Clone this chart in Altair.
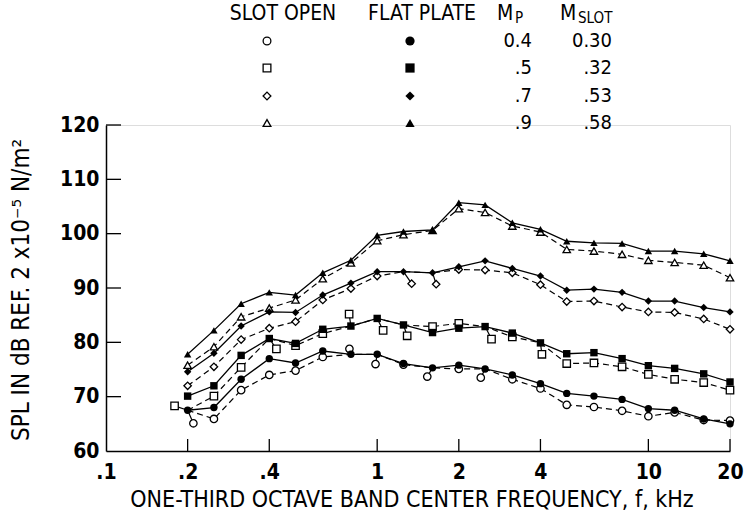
import altair as alt
import pandas as pd

FONT = "DejaVu Sans Condensed, Liberation Sans Narrow, sans-serif"

FREQ = [0.2, 0.25, 0.315, 0.4, 0.5, 0.63, 0.8, 1.0, 1.25, 1.6, 2.0, 2.5,
        3.15, 4.0, 5.0, 6.3, 8.0, 10.0, 12.5, 16.0, 20.0]

SERIES = ["circle", "square", "diamond", "triangle"]
MP = ["0.4", ".5", ".7", ".9"]
MSLOT = ["0.30", ".32", ".53", ".58"]

# flat plate (filled symbols, solid lines)
FLAT_CIRCLE = [67.5, 68.0, 73.2, 77.0, 76.2, 78.4, 77.8, 77.8, 76.1, 75.3, 75.8,
               75.1, 74.0, 72.4, 70.6, 70.1, 69.5, 67.8, 67.5, 65.9, 65.0]
FLAT_SQUARE = [70.1, 72.0, 77.6, 80.7, 79.8, 82.4, 83.0, 84.4, 83.2, 81.8, 82.6,
               82.9, 81.7, 79.9, 77.9, 78.1, 77.0, 75.7, 75.2, 74.2, 72.7]
FLAT_DIAMOND = [74.6, 78.0, 83.0, 85.6, 85.5, 88.7, 90.9, 93.0, 93.0, 92.8, 93.9,
                95.0, 93.6, 92.2, 89.6, 89.8, 89.2, 87.6, 87.6, 86.4, 85.6]
FLAT_TRIANGLE = [77.8, 82.2, 87.1, 89.2, 88.7, 92.8, 95.1, 99.7, 100.4, 100.7, 105.7,
                 105.3, 102.0, 100.8, 98.6, 98.3, 98.2, 96.8, 96.8, 96.3, 95.0]

# slot open (open symbols, dashed lines)
OPEN_CIRCLE = [67.5, 65.9, 71.2, 74.0, 74.8, 77.3, 77.8, 77.8, 75.9, 75.3, 75.1,
               75.1, 73.2, 71.5, 68.5, 68.1, 67.4, 66.4, 67.1, 65.7, 65.6]
OPEN_SQUARE = [67.5, 70.1, 75.4, 80.7, 79.4, 81.6, 83.0, 84.4, 83.2, 82.9, 83.5,
               82.9, 81.0, 79.9, 76.1, 76.2, 75.5, 74.1, 73.2, 72.6, 71.2]
OPEN_DIAMOND = [72.0, 75.5, 80.5, 82.6, 83.8, 87.8, 89.9, 92.2, 93.0, 92.8, 93.4,
                93.3, 92.8, 90.6, 87.5, 87.6, 86.5, 85.6, 85.5, 84.3, 82.4]
OPEN_TRIANGLE = [75.8, 79.2, 84.7, 86.3, 87.8, 91.7, 94.6, 98.7, 99.8, 100.6, 104.6,
                 103.9, 101.4, 100.3, 97.1, 96.8, 96.2, 95.1, 94.7, 94.2, 91.9]

# open symbols drawn displaced from the curve, joined to it by a short leader
DISP_SERIES = ["circle", "circle", "circle", "circle", "circle",
               "square", "square", "square", "square", "square", "square", "square",
               "diamond", "diamond"]
DISP_ANCHOR_F = [0.2, 0.8, 1.0, 1.6, 2.5,
                 0.2, 0.4, 0.8, 1.0, 1.25, 2.5, 4.0,
                 1.25, 1.6]
DISP_SYM_F = [0.21, 0.79, 0.986, 1.53, 2.41,
              0.179, 0.425, 0.788, 1.052, 1.29, 2.64, 4.05,
              1.34, 1.65]
DISP_SYM_DB = [65.1, 78.8, 76.0, 73.7, 73.5,
               68.3, 78.8, 85.2, 82.2, 81.2, 80.6, 77.8,
               90.8, 90.7]

X_LABELS = [0.1, 0.2, 0.4, 1, 2, 4, 10, 20]
X_TICKS = [0.2, 0.4, 1, 2, 4, 10, 20]
Y_TICKS = [60, 70, 80, 90, 100, 110, 120]

flat = {"circle": FLAT_CIRCLE, "square": FLAT_SQUARE,
        "diamond": FLAT_DIAMOND, "triangle": FLAT_TRIANGLE}
opn = {"circle": OPEN_CIRCLE, "square": OPEN_SQUARE,
       "diamond": OPEN_DIAMOND, "triangle": OPEN_TRIANGLE}

flat_rows, open_rows, sym_rows, lead_rows = [], [], [], []
disp = {(s, a): (f, d) for s, a, f, d in zip(DISP_SERIES, DISP_ANCHOR_F, DISP_SYM_F, DISP_SYM_DB)}
for s in SERIES:
    for f, v in zip(FREQ, flat[s]):
        flat_rows.append({"series": s, "f": f, "db": v})
    for f, v in zip(FREQ, opn[s]):
        open_rows.append({"series": s, "f": f, "db": v})
        if (s, f) in disp:
            sf, sd = disp[(s, f)]
            sym_rows.append({"series": s, "f": sf, "db": sd})
            lead_rows.append({"series": s, "f": f, "db": v, "f2": sf, "db2": sd})
        else:
            sym_rows.append({"series": s, "f": f, "db": v})

flat_df = pd.DataFrame(flat_rows)
open_df = pd.DataFrame(open_rows)
sym_df = pd.DataFrame(sym_rows)
lead_df = pd.DataFrame(lead_rows)

W, H = 624, 326

xs = alt.Scale(type="log", domain=[0.1, 20], nice=False, zero=False)
ys = alt.Scale(domain=[60, 120], nice=False, zero=False)
shape_scale = alt.Scale(domain=SERIES, range=["circle", "square", "diamond", "triangle-up"])

X = alt.X("f:Q", scale=xs, title=None,
          axis=alt.Axis(values=X_LABELS, grid=False, ticks=False, domainColor="black",
                        domainWidth=1.5, labelFont=FONT, labelFontSize=21, labelFontWeight="bold",
                        labelColor="black", labelPadding=10, labelOverlap=False, labelBound=False,
                        labelFlush=False,
                        labelExpr="datum.value < 1 ? '.' + format(datum.value * 10, 'd') : format(datum.value, 'd')"))
Y = alt.Y("db:Q", scale=ys, title=None,
          axis=alt.Axis(values=Y_TICKS, grid=False, ticks=False, domainColor="black",
                        domainWidth=1.5, labelFont=FONT, labelFontSize=21, labelFontWeight="bold",
                        labelColor="black", labelPadding=7, labelOverlap=False))
X2 = alt.X2("f2:Q")
Y2 = alt.Y2("db2:Q")

solid = alt.Chart(flat_df).mark_line(color="black", strokeWidth=1.3).encode(
    x=X, y=Y, detail="series:N")
dashed = alt.Chart(open_df).mark_line(color="black", strokeWidth=1.2, strokeDash=[6, 4]).encode(
    x=X, y=Y, detail="series:N")
leaders = alt.Chart(lead_df).mark_rule(color="black", strokeWidth=1.2).encode(
    x=X, y=Y, x2=X2, y2=Y2)
open_pts = alt.Chart(sym_df).mark_point(filled=True, fill="white", stroke="black",
                                        strokeWidth=1.3, size=55, opacity=1).encode(
    x=X, y=Y, shape=alt.Shape("series:N", scale=shape_scale, legend=None))
flat_pts = alt.Chart(flat_df).mark_point(filled=True, color="black", size=55, opacity=1).encode(
    x=X, y=Y, shape=alt.Shape("series:N", scale=shape_scale, legend=None))

xticks = alt.Chart(pd.DataFrame({"f": X_TICKS})).mark_rule(color="black", strokeWidth=1.3).encode(
    x=X, y=alt.value(H), y2=alt.value(H - 12))
yticks = alt.Chart(pd.DataFrame({"db": Y_TICKS[1:]})).mark_rule(color="black", strokeWidth=1.3).encode(
    y=Y, x=alt.value(0), x2=alt.value(15))

layers = [xticks, yticks, solid, dashed, leaders, open_pts, flat_pts]

# axis titles
layers.append(alt.Chart(pd.DataFrame({"t": ["ONE-THIRD OCTAVE BAND CENTER FREQUENCY, f, kHz"]}))
              .mark_text(font=FONT, fontSize=23, color="black", align="center", baseline="middle")
              .encode(text="t:N", x=alt.value(306), y=alt.value(H + 49)))
layers.append(alt.Chart(pd.DataFrame({"t": ["SPL IN dB REF. 2 x10\u207b\u2075 N/m\u00b2"]}))
              .mark_text(font=FONT, fontSize=24, color="black", align="center", baseline="middle", angle=270)
              .encode(text="t:N", x=alt.value(-84), y=alt.value(165)))

# custom legend
def txt(t, x, y, size=21, align="center"):
    return (alt.Chart(pd.DataFrame({"t": [t]}))
            .mark_text(font=FONT, fontSize=size, color="black", align=align, baseline="middle")
            .encode(text="t:N", x=alt.value(x), y=alt.value(y)))

HDR_Y = -111
layers += [txt("SLOT OPEN", 177, HDR_Y), txt("FLAT PLATE", 316, HDR_Y),
           txt("M", 391, HDR_Y, align="left"), txt("P", 409, HDR_Y + 4, size=15, align="left"),
           txt("M", 454, HDR_Y, align="left"), txt("SLOT", 472, HDR_Y + 4, size=15, align="left")]
ROW_Y = [-84, -57, -29, -2]
VEGA_SHAPES = ["circle", "square", "diamond", "triangle-up"]
for i in range(4):
    ry = ROW_Y[i]
    d = pd.DataFrame({"s": [SERIES[i]]})
    layers.append(alt.Chart(d).mark_point(shape=VEGA_SHAPES[i], filled=True, fill="white",
                                          stroke="black", strokeWidth=1.3, size=60, opacity=1)
                  .encode(x=alt.value(161), y=alt.value(ry)))
    layers.append(alt.Chart(d).mark_point(shape=VEGA_SHAPES[i], filled=True, color="black",
                                          size=85, opacity=1)
                  .encode(x=alt.value(304), y=alt.value(ry)))
    layers.append(txt(MP[i], 426, ry, size=20, align="right"))
    layers.append(txt(MSLOT[i], 506, ry, size=20, align="right"))

chart = alt.layer(*layers).properties(
    width=W, height=H,
    autosize=alt.AutoSizeParams(type="none"),
    padding={"left": 106, "top": 125, "right": 14, "bottom": 71},
).configure_view(stroke=None).configure(background="white")

chart.save("out.html", embed_options={"renderer": "svg", "actions": False})
